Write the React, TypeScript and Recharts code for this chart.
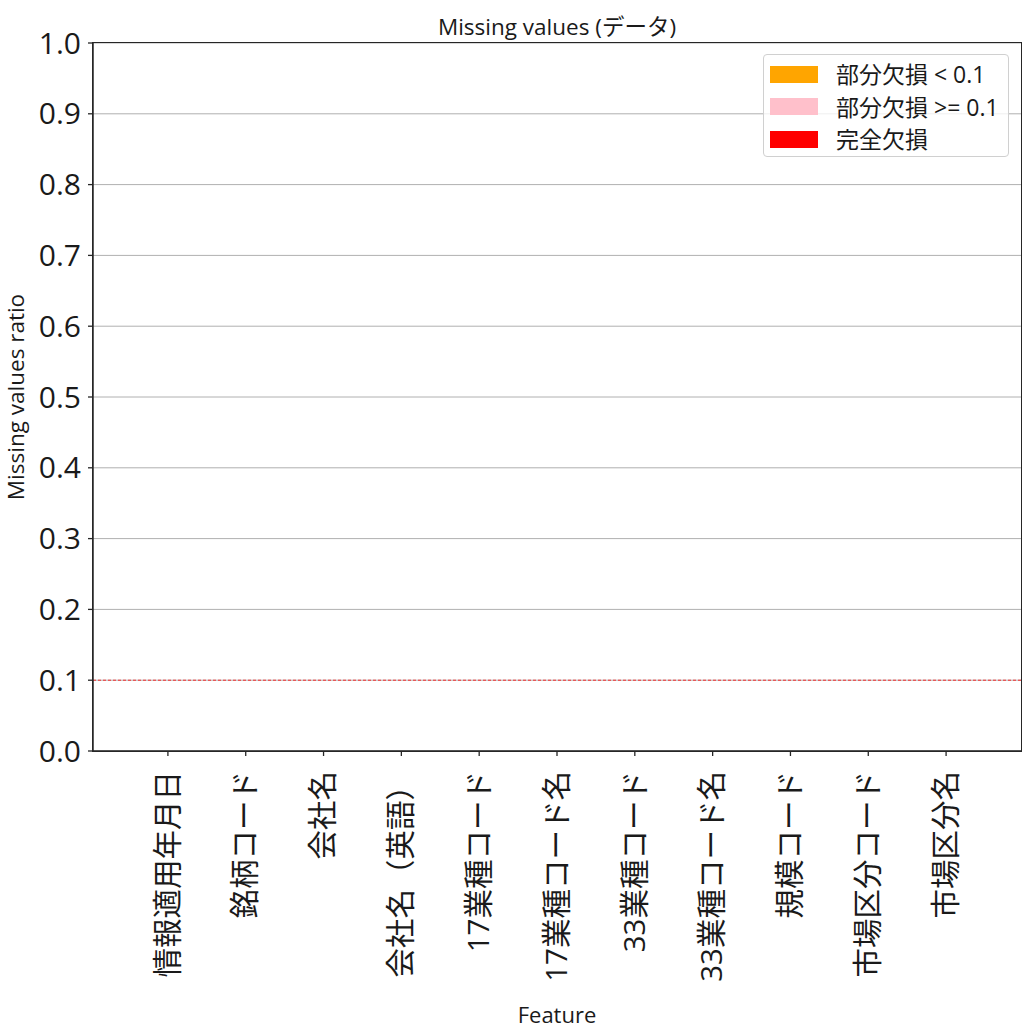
import React from "react";
import {
  ComposedChart, Bar, XAxis, YAxis, CartesianGrid, ReferenceLine, Legend,
} from "recharts";

const features = [
  "情報適用年月日", "銘柄コード", "会社名", "会社名（英語）", "17業種コード",
  "17業種コード名", "33業種コード", "33業種コード名", "規模コード",
  "市場区分コード", "市場区分名",
];

// missing ratio per feature: nothing is missing in this dataset
const partialLow = [0, 0, 0, 0, 0, 0, 0, 0, 0, 0, 0];
const partialHigh = [0, 0, 0, 0, 0, 0, 0, 0, 0, 0, 0];
const complete = [0, 0, 0, 0, 0, 0, 0, 0, 0, 0, 0];

const yTicks = [0, 0.1, 0.2, 0.3, 0.4, 0.5, 0.6, 0.7, 0.8, 0.9, 1.0];
const threshold = 0.1;

const series = [
  { key: "partialLow", name: "部分欠損 < 0.1", color: "#FFA500" },
  { key: "partialHigh", name: "部分欠損 >= 0.1", color: "#FFC0CB" },
  { key: "complete", name: "完全欠損", color: "#FF0000" },
];

const data = features.map((f, i) => ({
  feature: f,
  partialLow: partialLow[i],
  partialHigh: partialHigh[i],
  complete: complete[i],
}));

const FONT = "'Open Sans', 'Noto Sans CJK JP', sans-serif";
const SPINE = "#262626";
const TEXT = "#1a1a1a";

// plot box, matching chart margin + axis sizes below
const PLOT = { left: 93, top: 43, width: 928, height: 708 };

function FeatureTick(props: any) {
  const { x, y, payload } = props;
  return (
    <g transform={`translate(${x},${y})`}>
      <text
        transform="rotate(-90)"
        x={-13}
        dy="0.33em"
        textAnchor="end"
        fontSize={29.5}
        fontFamily={FONT}
        fill={TEXT}
      >
        {payload.value}
      </text>
    </g>
  );
}

// legend drawn from our own series list so the order stays as in the reference
function LegendBox() {
  return (
    <div
      style={{
        boxSizing: "border-box",
        width: 246,
        height: 103,
        padding: "3px 0 0 6px",
        background: "rgba(255,255,255,0.8)",
        border: "1px solid #d0d0d0",
        borderRadius: 4,
        fontFamily: FONT,
        fontSize: 23,
        color: TEXT,
      }}
    >
      {series.map((s) => (
        <div key={s.key} style={{ display: "flex", alignItems: "center", height: 32.5 }}>
          <span style={{ display: "inline-block", width: 48, height: 17, background: s.color }} />
          <span style={{ marginLeft: 18, lineHeight: "26px" }}>{s.name}</span>
        </div>
      ))}
    </div>
  );
}

function YLabel(props: any) {
  const { viewBox } = props;
  const cx = viewBox.x + 15;
  const cy = viewBox.y + viewBox.height / 2;
  return (
    <text
      x={cx}
      y={cy}
      transform={`rotate(-90 ${cx} ${cy})`}
      textAnchor="middle"
      dominantBaseline="central"
      fontSize={22.5}
      fontFamily={FONT}
      fill={TEXT}
    >
      Missing values ratio
    </text>
  );
}

function XLabel(props: any) {
  const { viewBox } = props;
  return (
    <text
      x={viewBox.x + viewBox.width / 2}
      y={viewBox.y + viewBox.height - 7}
      textAnchor="middle"
      fontSize={22}
      fontFamily={FONT}
      fill={TEXT}
    >
      Feature
    </text>
  );
}

export default function App() {
  return (
    <div style={{ position: "absolute", left: 0, top: 0, width: 1028, height: 1030, background: "#fff" }}>
      <div
        style={{
          position: "absolute",
          left: PLOT.left,
          top: 13,
          width: PLOT.width,
          textAlign: "center",
          fontFamily: FONT,
          fontSize: 22.5,
          lineHeight: "28px",
          color: TEXT,
        }}
      >
        Missing values (データ)
      </div>
      <ComposedChart
        width={1028}
        height={1030}
        data={data}
        margin={{ top: PLOT.top, right: 1028 - PLOT.left - PLOT.width, bottom: 0, left: 0 }}
      >
        <CartesianGrid vertical={false} stroke="#b0b0b0" strokeWidth={1} />
        <XAxis
          dataKey="feature"
          height={1030 - PLOT.top - PLOT.height}
          interval={0}
          padding={{ left: 36, right: 36 }}
          tick={<FeatureTick />}
          tickSize={5}
          tickLine={{ stroke: SPINE, strokeWidth: 1.3 }}
          axisLine={{ stroke: SPINE, strokeWidth: 1.5 }}
          label={{ content: <XLabel /> }}
        />
        <YAxis
          type="number"
          domain={[0, 1]}
          ticks={yTicks}
          width={PLOT.left}
          interval={0}
          tickFormatter={(v: number) => v.toFixed(1)}
          tickSize={5}
          tickMargin={7}
          tick={{ fontSize: 30, fontFamily: FONT, fill: TEXT }}
          tickLine={{ stroke: SPINE, strokeWidth: 1.3 }}
          axisLine={{ stroke: SPINE, strokeWidth: 1.5 }}
          label={{ content: <YLabel /> }}
        />
        <ReferenceLine
          y={threshold}
          stroke="#ff0000"
          strokeWidth={1}
          strokeOpacity={0.8}
          strokeDasharray="3 2"
        />
        {series.map((s) => (
          <Bar
            key={s.key}
            dataKey={s.key}
            name={s.name}
            stackId="missing"
            fill={s.color}
            isAnimationActive={false}
          />
        ))}
        <Legend
          layout="vertical"
          align="center"
          verticalAlign="middle"
          wrapperStyle={{ left: 763, top: 54, width: 246 }}
          content={<LegendBox />}
        />
      </ComposedChart>
      {/* axes frame (top and right spines) */}
      <div
        style={{
          position: "absolute",
          left: PLOT.left - 0.75,
          top: PLOT.top - 0.75,
          width: PLOT.width,
          height: PLOT.height,
          border: `1.5px solid ${SPINE}`,
          pointerEvents: "none",
        }}
      />
    </div>
  );
}
